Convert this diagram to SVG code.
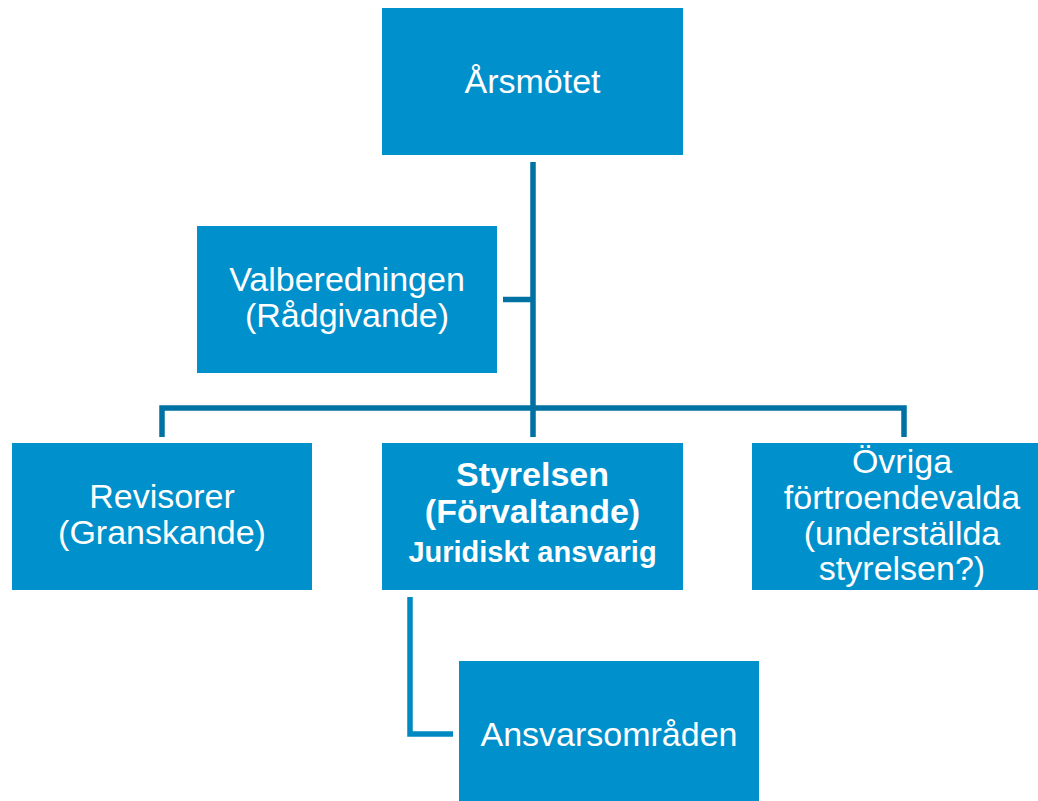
<svg xmlns="http://www.w3.org/2000/svg" width="1038" height="801" viewBox="0 0 1038 801">
<style>
.box{fill:#0090CC;}
.t{fill:#FFFFFF;font-family:"Liberation Sans",Arial,sans-serif;font-size:34px;text-anchor:middle;}
.b{font-weight:bold;}
.s{font-size:29px;}
.c{fill:none;stroke:#0071A3;stroke-width:5.5;}
.c2{fill:none;stroke:#0088C2;stroke-width:5.5;}
</style>
<rect width="1038" height="801" fill="#FFFFFF"/>
<g id="connectors">
<path class="c" d="M533,162 V437"/>
<path class="c" d="M503,299.5 H533"/>
<path class="c" d="M162,437 V408 H904 V437"/>
<path class="c2" d="M410,597 V734 H453"/>
</g>
<g id="arsmotet">
<rect class="box" x="382" y="8" width="301" height="147"/>
<text class="t" x="532.5" y="93">Årsmötet</text>
</g>
<g id="valberedningen">
<rect class="box" x="197" y="226" width="300" height="147"/>
<text class="t" x="347" y="291">Valberedningen</text>
<text class="t" x="347" y="327">(Rådgivande)</text>
</g>
<g id="revisorer">
<rect class="box" x="12" y="443" width="300" height="147"/>
<text class="t" x="162" y="508">Revisorer</text>
<text class="t" x="162" y="544">(Granskande)</text>
</g>
<g id="styrelsen">
<rect class="box" x="382" y="443" width="301" height="147"/>
<text class="t b" x="532.5" y="486">Styrelsen</text>
<text class="t b" x="532.5" y="523">(Förvaltande)</text>
<text class="t b s" x="532.5" y="562">Juridiskt ansvarig</text>
</g>
<g id="ovriga">
<rect class="box" x="752" y="443" width="300" height="147"/>
<text class="t" x="902" y="473">Övriga</text>
<text class="t" x="902" y="509">förtroendevalda</text>
<text class="t" x="902" y="545">(underställda</text>
<text class="t" x="902" y="580">styrelsen?)</text>
</g>
<g id="ansvarsomraden">
<rect class="box" x="459" y="661" width="300" height="147"/>
<text class="t" x="609" y="746">Ansvarsområden</text>
</g>
</svg>
